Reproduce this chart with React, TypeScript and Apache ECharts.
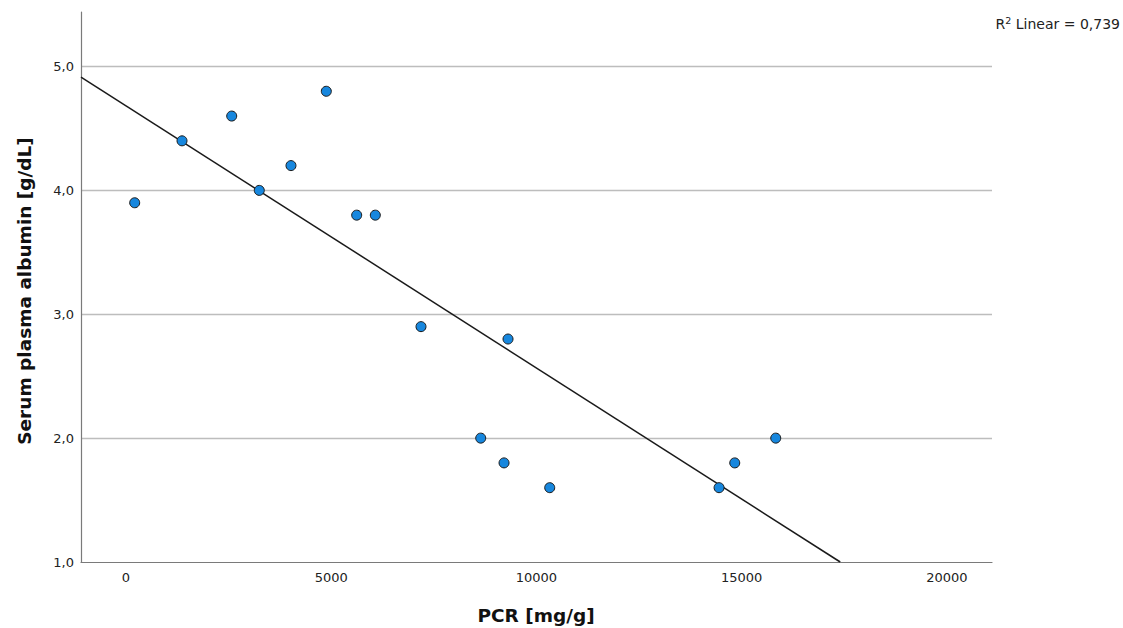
import React, { useEffect, useRef } from "react";
import * as echarts from "echarts";

// PCR (mg/g) and serum plasma albumin (g/dL) per patient
const pcr = [212, 1365, 2576, 3248, 4020, 4881, 5621, 6075, 7188, 8643, 9211, 9308, 10324, 14450, 14832, 15831];
const albumin = [3.9, 4.4, 4.6, 4.0, 4.2, 4.8, 3.8, 3.8, 2.9, 2.0, 1.8, 2.8, 1.6, 1.6, 1.8, 2.0];

const xTicks = [0, 5000, 10000, 15000, 20000];
const yTicks = [1, 2, 3, 4, 5];
const xRange = [-1096, 21100];
const yRange = [1, 5.44];
const r2Label = "0,739";

const FONT = "'DejaVu Sans', 'Noto Sans', sans-serif";

// ordinary least squares fit of albumin on PCR
function linearFit(xs: number[], ys: number[]) {
  const n = xs.length;
  const mx = xs.reduce((a, b) => a + b, 0) / n;
  const my = ys.reduce((a, b) => a + b, 0) / n;
  let sxy = 0;
  let sxx = 0;
  for (let i = 0; i < n; i++) {
    sxy += (xs[i] - mx) * (ys[i] - my);
    sxx += (xs[i] - mx) * (xs[i] - mx);
  }
  const slope = sxy / sxx;
  return { slope, intercept: my - slope * mx };
}

export default function App() {
  const ref = useRef<HTMLDivElement>(null);

  useEffect(() => {
    document.body.style.margin = "0";
    if (!ref.current) return;
    const chart = echarts.init(ref.current, null, { renderer: "svg" });

    const { slope, intercept } = linearFit(pcr, albumin);
    const lineStart = [xRange[0], intercept + slope * xRange[0]];
    const lineEnd = [(yRange[0] - intercept) / slope, yRange[0]];

    const points = pcr.map((x, i) => [x, albumin[i]]);

    chart.setOption({
      animation: false,
      backgroundColor: "#ffffff",
      grid: { left: 81, right: 131, top: 12, bottom: 66, containLabel: false },
      xAxis: {
        type: "value",
        min: xRange[0],
        max: xRange[1],
        splitNumber: 4,
        axisLine: { show: true, onZero: false, lineStyle: { color: "#7a7a7a", width: 1.2 } },
        axisTick: { show: false },
        splitLine: { show: false },
        axisLabel: {
          margin: 9,
          color: "#222",
          fontFamily: FONT,
          fontSize: 13,
          showMinLabel: false,
          showMaxLabel: false,
          formatter: (v: number) => (xTicks.includes(v) ? String(v) : ""),
        },
      },
      yAxis: {
        type: "value",
        min: yRange[0],
        max: yRange[1],
        splitNumber: 5,
        axisLine: { show: true, onZero: false, lineStyle: { color: "#7a7a7a", width: 1.2 } },
        axisTick: { show: false },
        splitLine: {
          show: true,
          showMinLine: false,
          showMaxLine: false,
          lineStyle: { color: "#bdbdbd", width: 1.3 },
        },
        axisLabel: {
          margin: 7,
          color: "#222",
          fontFamily: FONT,
          fontSize: 13,
          showMaxLabel: false,
          formatter: (v: number) => (yTicks.includes(v) ? v.toFixed(1).replace(".", ",") : ""),
        },
      },
      graphic: [
        {
          type: "text",
          x: 24,
          y: 291,
          rotation: Math.PI / 2,
          style: {
            text: "Serum plasma albumin [g/dL]",
            font: `bold 18.5px ${FONT}`,
            fill: "#111",
            align: "center",
            verticalAlign: "middle",
          },
        },
        {
          type: "text",
          x: 536,
          y: 615,
          style: {
            text: "PCR [mg/g]",
            font: `bold 18.5px ${FONT}`,
            fill: "#111",
            align: "center",
            verticalAlign: "middle",
          },
        },
        {
          type: "text",
          x: 1120,
          y: 15,
          style: {
            text: `{r|R}{s|2}{r| Linear = ${r2Label}}`,
            align: "right",
            verticalAlign: "top",
            rich: {
              r: { fontFamily: FONT, fontSize: 14, lineHeight: 17, fill: "#222", color: "#222" },
              s: { fontFamily: FONT, fontSize: 9.5, lineHeight: 10, verticalAlign: "top", fill: "#222", color: "#222" },
            },
          },
        },
      ],
      series: [
        {
          type: "line",
          data: [lineStart, lineEnd],
          symbol: "none",
          silent: true,
          lineStyle: { color: "#1a1a1a", width: 1.5 },
          z: 2,
        },
        {
          type: "scatter",
          data: points,
          symbol: "circle",
          symbolSize: 10,
          itemStyle: { color: "#1787DE", borderColor: "#1a1a1a", borderWidth: 1, opacity: 1 },
          z: 3,
        },
      ],
    });

    return () => chart.dispose();
  }, []);

  return <div ref={ref} style={{ width: 1123, height: 628 }} />;
}
